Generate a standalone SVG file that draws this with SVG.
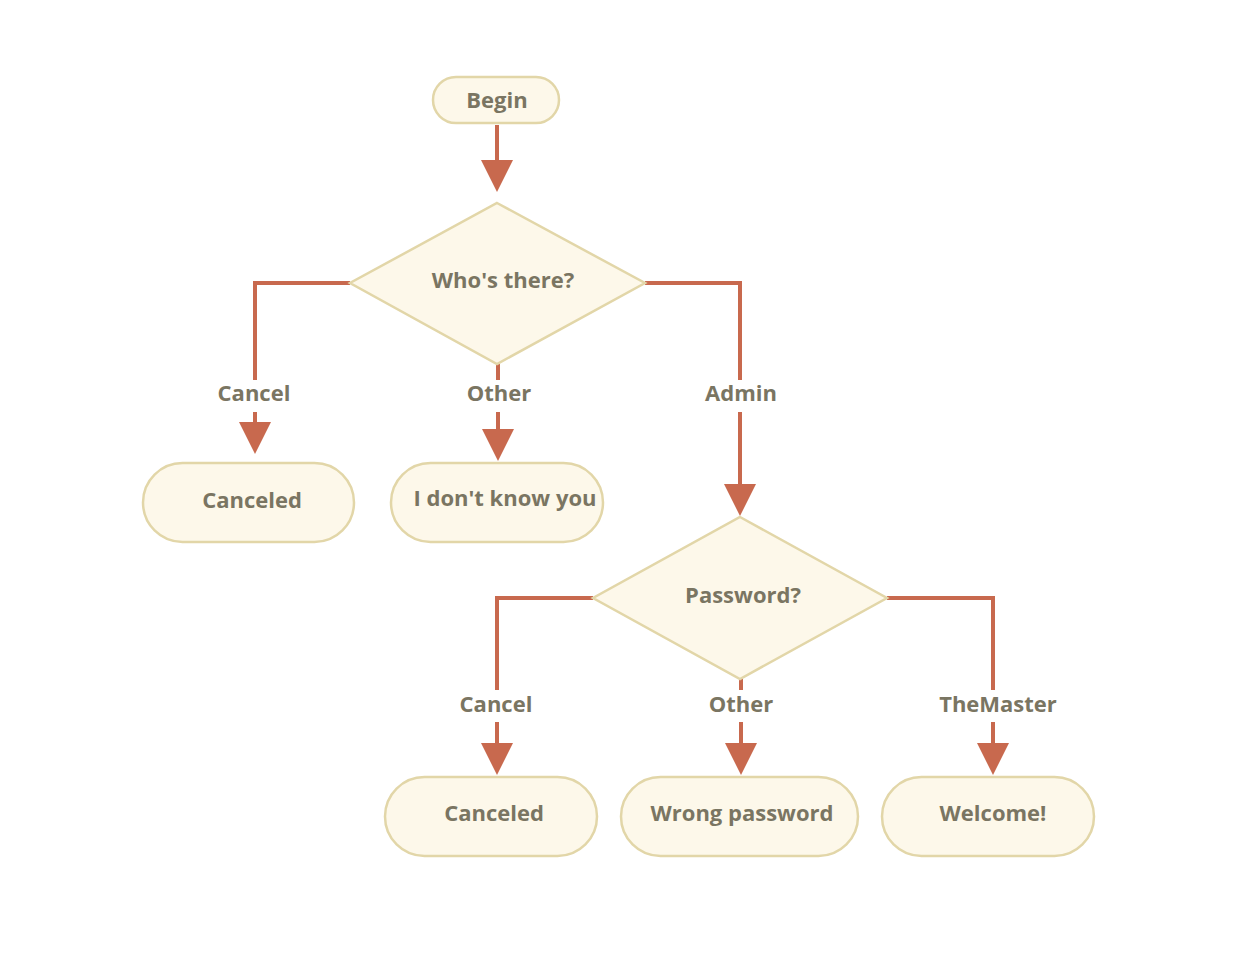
<svg xmlns="http://www.w3.org/2000/svg" width="1233" height="962" viewBox="0 0 1233 962">
<style>
.node{fill:#fdf8ea;stroke:#e2d6a8;stroke-width:2.5}
.t{font-family:"Open Sans","Liberation Sans",sans-serif;font-weight:700;font-size:22px;fill:#7a7562;text-anchor:middle;dominant-baseline:central}
.c{fill:none;stroke:#c8694e;stroke-width:4}
</style>
<defs>
<marker id="ah" viewBox="0 0 32 32" refX="0" refY="16" markerWidth="32" markerHeight="32" markerUnits="userSpaceOnUse" orient="auto">
<path d="M0,0 L32,16 L0,32 z" fill="#c8694e"/>
</marker>
</defs>
<rect width="1233" height="962" fill="#ffffff"/>
<g id="connectors">
<path class="c" d="M497,125 V160" marker-end="url(#ah)"/>
<path class="c" d="M350,283 H255 V380"/>
<path class="c" d="M255,412 V422" marker-end="url(#ah)"/>
<path class="c" d="M498,364 V380"/>
<path class="c" d="M498,412 V429" marker-end="url(#ah)"/>
<path class="c" d="M645,283 H740 V380"/>
<path class="c" d="M740,412 V484" marker-end="url(#ah)"/>
<path class="c" d="M593,598 H497 V690"/>
<path class="c" d="M497,722 V743" marker-end="url(#ah)"/>
<path class="c" d="M741,679 V690"/>
<path class="c" d="M741,722 V743" marker-end="url(#ah)"/>
<path class="c" d="M887,598 H993 V690"/>
<path class="c" d="M993,722 V743" marker-end="url(#ah)"/>
<text class="t" x="254" y="392">Cancel</text>
<text class="t" x="499" y="392">Other</text>
<text class="t" x="741" y="392">Admin</text>
<text class="t" x="496" y="703">Cancel</text>
<text class="t" x="741" y="703">Other</text>
<text class="t" x="998" y="703">TheMaster</text>
</g>
<g id="begin">
<rect class="node" x="433" y="77" width="126" height="46" rx="23"/>
<text class="t" x="497" y="99">Begin</text>
</g>
<g id="who">
<polygon class="node" points="497,203 645,283 497,364 350,283"/>
<text class="t" x="503" y="279">Who's there?</text>
</g>
<g id="canceled1">
<rect class="node" x="143" y="463" width="211" height="79" rx="39.5"/>
<text class="t" x="252" y="499">Canceled</text>
</g>
<g id="unknown">
<rect class="node" x="391" y="463" width="212" height="79" rx="39.5"/>
<text class="t" x="505" y="497">I don't know you</text>
</g>
<g id="password">
<polygon class="node" points="740,517 887,598 740,679 593,598"/>
<text class="t" x="743" y="594">Password?</text>
</g>
<g id="canceled2">
<rect class="node" x="385" y="777" width="212" height="79" rx="39.5"/>
<text class="t" x="494" y="812">Canceled</text>
</g>
<g id="wrong">
<rect class="node" x="621" y="777" width="237" height="79" rx="39.5"/>
<text class="t" x="742" y="812">Wrong password</text>
</g>
<g id="welcome">
<rect class="node" x="882" y="777" width="212" height="79" rx="39.5"/>
<text class="t" x="993" y="812">Welcome!</text>
</g>
</svg>
